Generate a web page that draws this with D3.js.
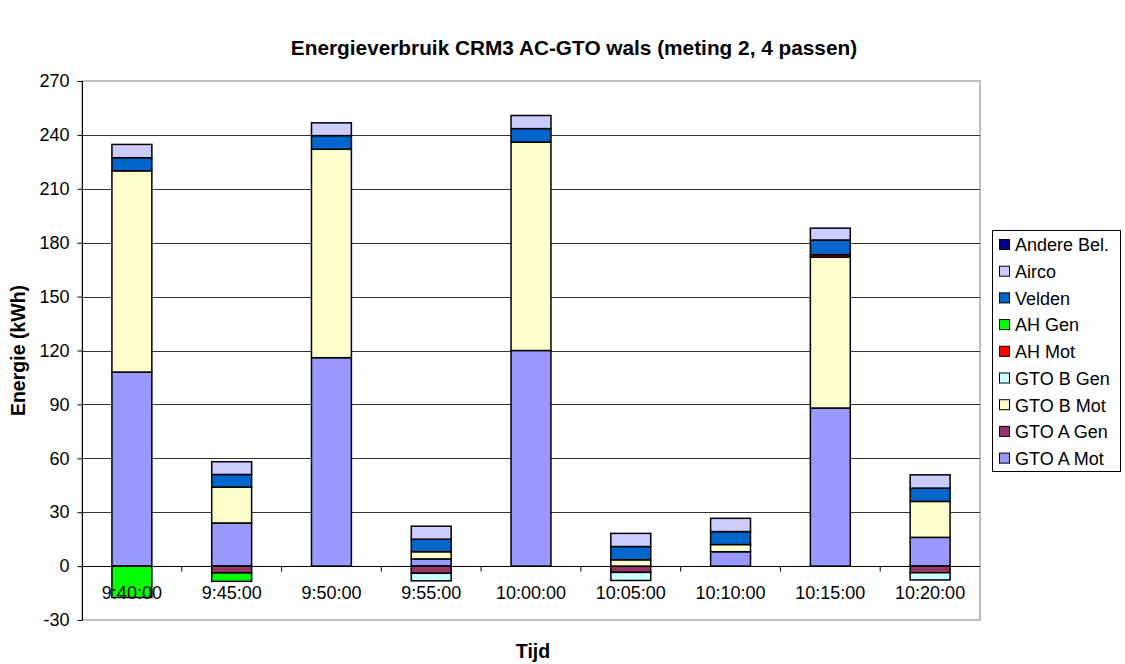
<!DOCTYPE html>
<html>
<head>
<meta charset="utf-8">
<script src="https://cdn.jsdelivr.net/npm/d3@7"></script>
<style>
  body { margin: 0; background: #fff; }
  svg { display: block; font-family: "Liberation Sans", Arial, sans-serif; }
</style>
</head>
<body>
<svg id="chart" width="1125" height="664"></svg>
<script>
const categories = ["9:40:00","9:45:00","9:50:00","9:55:00","10:00:00","10:05:00","10:10:00","10:15:00","10:20:00"];
const seriesNames = ["GTO A Mot","GTO A Gen","GTO B Mot","GTO B Gen","AH Mot","AH Gen","Velden","Airco","Andere Bel."];
const seriesColors = ["#9999FF","#993366","#FFFFCC","#CCFFFF","#FF0000","#00FF00","#0066CC","#CCCCFF","#000080"];
const gtoAMot = [108, 24, 116, 4, 120, 0, 8, 88, 16];
const gtoAGen = [0, -3.8, 0, -4, 0, -3.5, 0, 0, -3.7];
const gtoBMot = [112, 20, 116, 4, 116, 3.5, 4, 84, 20];
const gtoBGen = [0, 0, 0, -4.2, 0, -4.5, 0, 0, -4];
const ahMot = [0, 0, 0, 0, 0, 0, 0, 1.3, 0];
const ahGen = [-17.5, -4.7, 0, 0, 0, 0, 0, 0, 0];
const velden = [7.3, 7, 7.6, 7, 7.5, 7.4, 7.2, 8.2, 7.4];
const airco = [7.4, 7.1, 7.1, 7.2, 7.3, 7.3, 7.4, 6.6, 7.4];
const andereBel = [0, 0, 0, 0, 0, 0, 0, 0, 0];
const yTicks = [-30, 0, 30, 60, 90, 120, 150, 180, 210, 240, 270];

const seriesValues = [gtoAMot, gtoAGen, gtoBMot, gtoBGen, ahMot, ahGen, velden, airco, andereBel];
const rows = categories.map((c, i) => {
  const r = { cat: c };
  seriesNames.forEach((s, j) => r[s] = seriesValues[j][i]);
  return r;
});

const FONT = "Liberation Sans, Arial, sans-serif";
const svg = d3.select("#chart");
const plot = { left: 82, right: 980, top: 81, bottom: 620 };

const x = d3.scaleBand().domain(categories).range([plot.left, plot.right]).paddingInner(0.6).paddingOuter(0.3);
const xOuter = d3.scaleBand().domain(categories).range([plot.left, plot.right]);
const y = d3.scaleLinear().domain([-30, 270]).range([plot.bottom, plot.top]);

// Plot border
svg.append("rect")
  .attr("x", plot.left).attr("y", plot.top)
  .attr("width", plot.right - plot.left).attr("height", plot.bottom - plot.top)
  .attr("fill", "#fff").attr("stroke", "#808080").attr("stroke-width", 1);

// Gridlines
svg.append("g").selectAll("line").data(yTicks.filter(t => t !== -30 && t !== 270)).join("line")
  .attr("x1", plot.left).attr("x2", plot.right)
  .attr("y1", d => Math.round(y(d)) + 0.5).attr("y2", d => Math.round(y(d)) + 0.5)
  .attr("stroke", "#333").attr("stroke-width", 1);

// Y axis
const yAxis = d3.axisLeft(y).tickValues(yTicks).tickSize(5).tickPadding(8).tickFormat(d => String(d));
const gy = svg.append("g").attr("transform", `translate(${plot.left + 0.5},0)`).call(yAxis);
gy.select(".domain").attr("stroke", "#000").attr("d", `M0,${plot.top}V${plot.bottom}`);
gy.selectAll(".tick line").attr("stroke", "#000");
gy.selectAll("text").attr("font-size", 18).attr("fill", "#000").attr("font-family", FONT);

// Stack
const stack = d3.stack().keys(seriesNames).offset(d3.stackOffsetDiverging);
const stacked = stack(rows);

const bars = svg.append("g");
stacked.forEach((layer, j) => {
  bars.append("g").attr("fill", seriesColors[j])
    .selectAll("rect").data(layer.filter(d => d[1] !== d[0])).join("rect")
    .attr("x", d => x(d.data.cat))
    .attr("width", x.bandwidth())
    .attr("y", d => y(Math.max(d[0], d[1])))
    .attr("height", d => Math.abs(y(d[0]) - y(d[1])))
    .attr("stroke", "#000").attr("stroke-width", 1.5);
});

// X axis at zero
const xAxisG = svg.append("g").attr("transform", `translate(0,${Math.round(y(0)) + 0.5})`);
xAxisG.append("line").attr("x1", plot.left).attr("x2", plot.right).attr("stroke", "#000");
xAxisG.selectAll(".tk").data(categories.slice(1)).join("line")
  .attr("x1", d => xOuter(d)).attr("x2", d => xOuter(d))
  .attr("y1", 0).attr("y2", 5).attr("stroke", "#000");
const xAxis = d3.axisBottom(x).tickSize(0).tickPadding(0);
const gx = svg.append("g").attr("transform", `translate(0,${y(0)})`).call(xAxis);
gx.select(".domain").remove();
gx.selectAll("text").attr("font-size", 18).attr("fill", "#000").attr("dy", null).attr("y", 33)
  .attr("font-family", FONT);

// Titles
svg.append("text").attr("x", 574).attr("y", 55).attr("text-anchor", "middle")
  .attr("font-size", 20.8).attr("font-weight", "bold")
  .text("Energieverbruik CRM3 AC-GTO wals (meting 2, 4 passen)");
svg.append("text").attr("transform", `translate(25,${(plot.top + plot.bottom) / 2}) rotate(-90)`)
  .attr("text-anchor", "middle").attr("font-size", 19.5).attr("font-weight", "bold")
  .text("Energie (kWh)");
svg.append("text").attr("x", 533).attr("y", 658).attr("text-anchor", "middle")
  .attr("font-size", 19.5).attr("font-weight", "bold").text("Tijd");

// Legend
const legendItems = seriesNames.map((n, i) => ({ name: n, color: seriesColors[i] })).reverse();
const lg = svg.append("g");
lg.append("rect").attr("x", 992.5).attr("y", 230.5).attr("width", 128).attr("height", 241)
  .attr("fill", "#fff").attr("stroke", "#000").attr("stroke-width", 1);
const li = lg.selectAll("g.item").data(legendItems).join("g")
  .attr("transform", (d, i) => `translate(999,${245 + i * 26.7})`);
li.append("rect").attr("x", 0.5).attr("y", -5.5).attr("width", 10).attr("height", 10)
  .attr("fill", d => d.color).attr("stroke", "#000").attr("stroke-width", 1);
li.append("text").attr("x", 16).attr("y", 0).attr("dy", "0.35em").attr("font-size", 18)
  .text(d => d.name);
</script>
</body>
</html>
